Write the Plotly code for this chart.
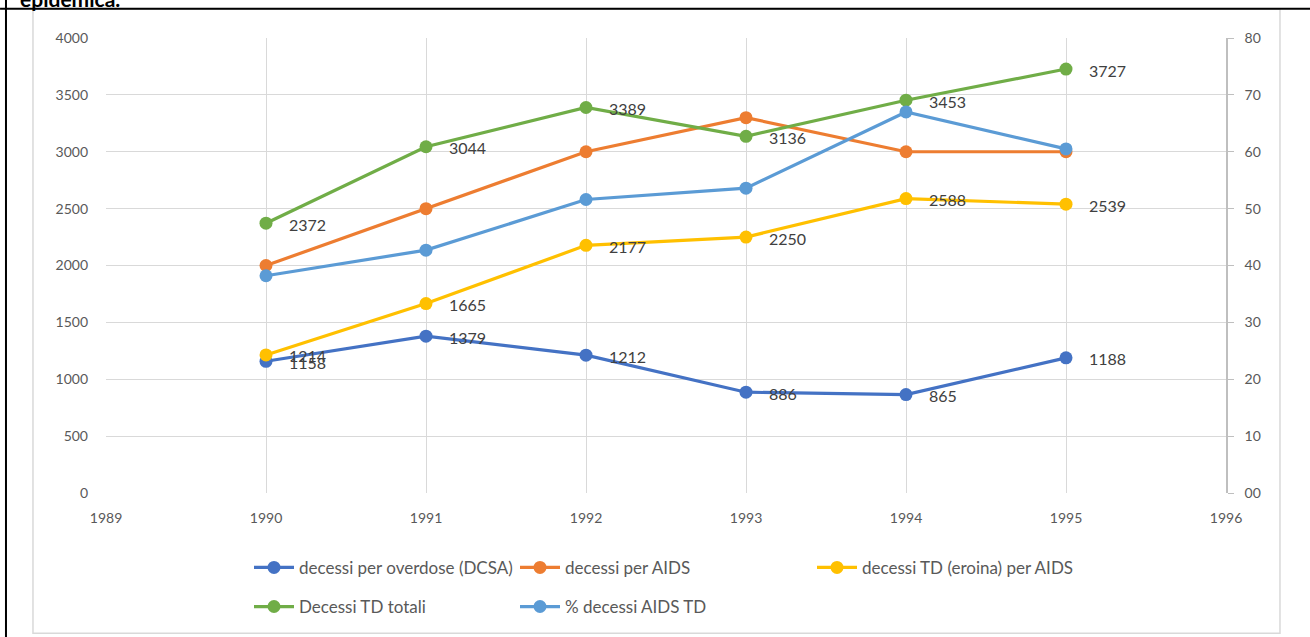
import plotly.graph_objects as go

years = [1990, 1991, 1992, 1993, 1994, 1995]
overdose = [1158, 1379, 1212, 886, 865, 1188]
aids = [2000, 2500, 3000, 3300, 3000, 3000]
td_eroina_aids = [1214, 1665, 2177, 2250, 2588, 2539]
td_totali = [2372, 3044, 3389, 3136, 3453, 3727]
perc_aids_td = [38.2, 42.7, 51.6, 53.6, 67.0, 60.5]

names = ["decessi per overdose (DCSA)", "decessi per AIDS", "decessi TD (eroina) per AIDS",
         "Decessi TD totali", "% decessi AIDS TD"]
colors = ["#4472C4", "#ED7D31", "#FFC000", "#70AD47", "#5B9BD5"]
series = [overdose, aids, td_eroina_aids, td_totali, perc_aids_td]
axes = ["y", "y", "y", "y", "y2"]
legends = ["legend", "legend2", "legend3", "legend", "legend2"]
labelled = [True, False, True, True, False]

FONT = "Lato"
fig = go.Figure()
for i, (name, col, vals, ax, lg) in enumerate(zip(names, colors, series, axes, legends)):
    fig.add_trace(go.Scatter(
        x=years, y=vals, name=name, mode="lines+markers", yaxis=ax, legend=lg,
        legendgroup="g%d" % i,
        line=dict(color=col, width=3.2), marker=dict(color=col, size=13),
        hoverinfo="x+y+name"))

annotations = []
for vals, lab in zip(series, labelled):
    if not lab:
        continue
    for x, v in zip(years, vals):
        annotations.append(dict(x=x, y=v, xref="x", yref="y", text=str(v), showarrow=False,
                                xanchor="left", yanchor="middle", xshift=21, yshift=-1,
                                font=dict(family=FONT, size=16, color="#404040")))

annotations.append(dict(x=-0.0785, y=1.056, xref="paper", yref="paper", text="<b>epidemica.</b>",
                        showarrow=False, xanchor="left", yanchor="bottom",
                        font=dict(family="Lato", size=21, color="#000000")))

shapes = [
    dict(type="rect", xref="paper", yref="paper", x0=-0.0652, x1=1.0482, y0=-0.3085, y1=1.063,
         line=dict(color="#D9D9D9", width=1.5), layer="below"),
    dict(type="line", xref="paper", yref="paper", x0=-0.0946, x1=1.0848, y0=1.0645, y1=1.0645,
         line=dict(color="#000000", width=2)),
    dict(type="line", xref="paper", yref="paper", x0=-0.0893, x1=-0.0893, y0=-0.32, y1=1.09,
         line=dict(color="#000000", width=2)),
]

legfont = dict(family=FONT, size=17, color="#595959")
def leg(xpx):
    return dict(orientation="v", x=(xpx - 106) / 1120, xanchor="left", y=-0.125, yanchor="top",
                font=legfont, itemwidth=40, tracegroupgap=14, bgcolor="rgba(0,0,0,0)")

fig.update_layout(
    width=1310, height=637,
    margin=dict(l=106, r=84, t=38, b=142),
    paper_bgcolor="white", plot_bgcolor="white",
    font=dict(family=FONT, size=14, color="#595959"),
    xaxis=dict(range=[1989, 1996], dtick=1, tick0=1989, showgrid=True, gridcolor="#D9D9D9",
               gridwidth=1, zeroline=False, showline=False, ticks="", ticklabelstandoff=15,
               tickfont=dict(family=FONT, size=14, color="#595959")),
    yaxis=dict(range=[0, 4000], dtick=500, showgrid=True, gridcolor="#D9D9D9", gridwidth=1,
               zeroline=False, showline=False, ticks="", ticklabelstandoff=17,
               tickfont=dict(family=FONT, size=14, color="#595959")),
    yaxis2=dict(range=[0, 80], dtick=10, overlaying="y", side="right", showgrid=False,
                zeroline=False, showline=True, linecolor="#BFBFBF", linewidth=1.5,
                ticks="outside", ticklen=6, tickcolor="#BFBFBF", tickformat="02d",
                ticklabelstandoff=8,
                tickfont=dict(family=FONT, size=14, color="#595959")),
    legend=leg(249),
    legend2=leg(515),
    legend3=leg(812),
    annotations=annotations,
    shapes=shapes,
    showlegend=True,
)

fig.write_html("out.html", config={"displayModeBar": False},
               post_script="document.body.style.margin='0';")
